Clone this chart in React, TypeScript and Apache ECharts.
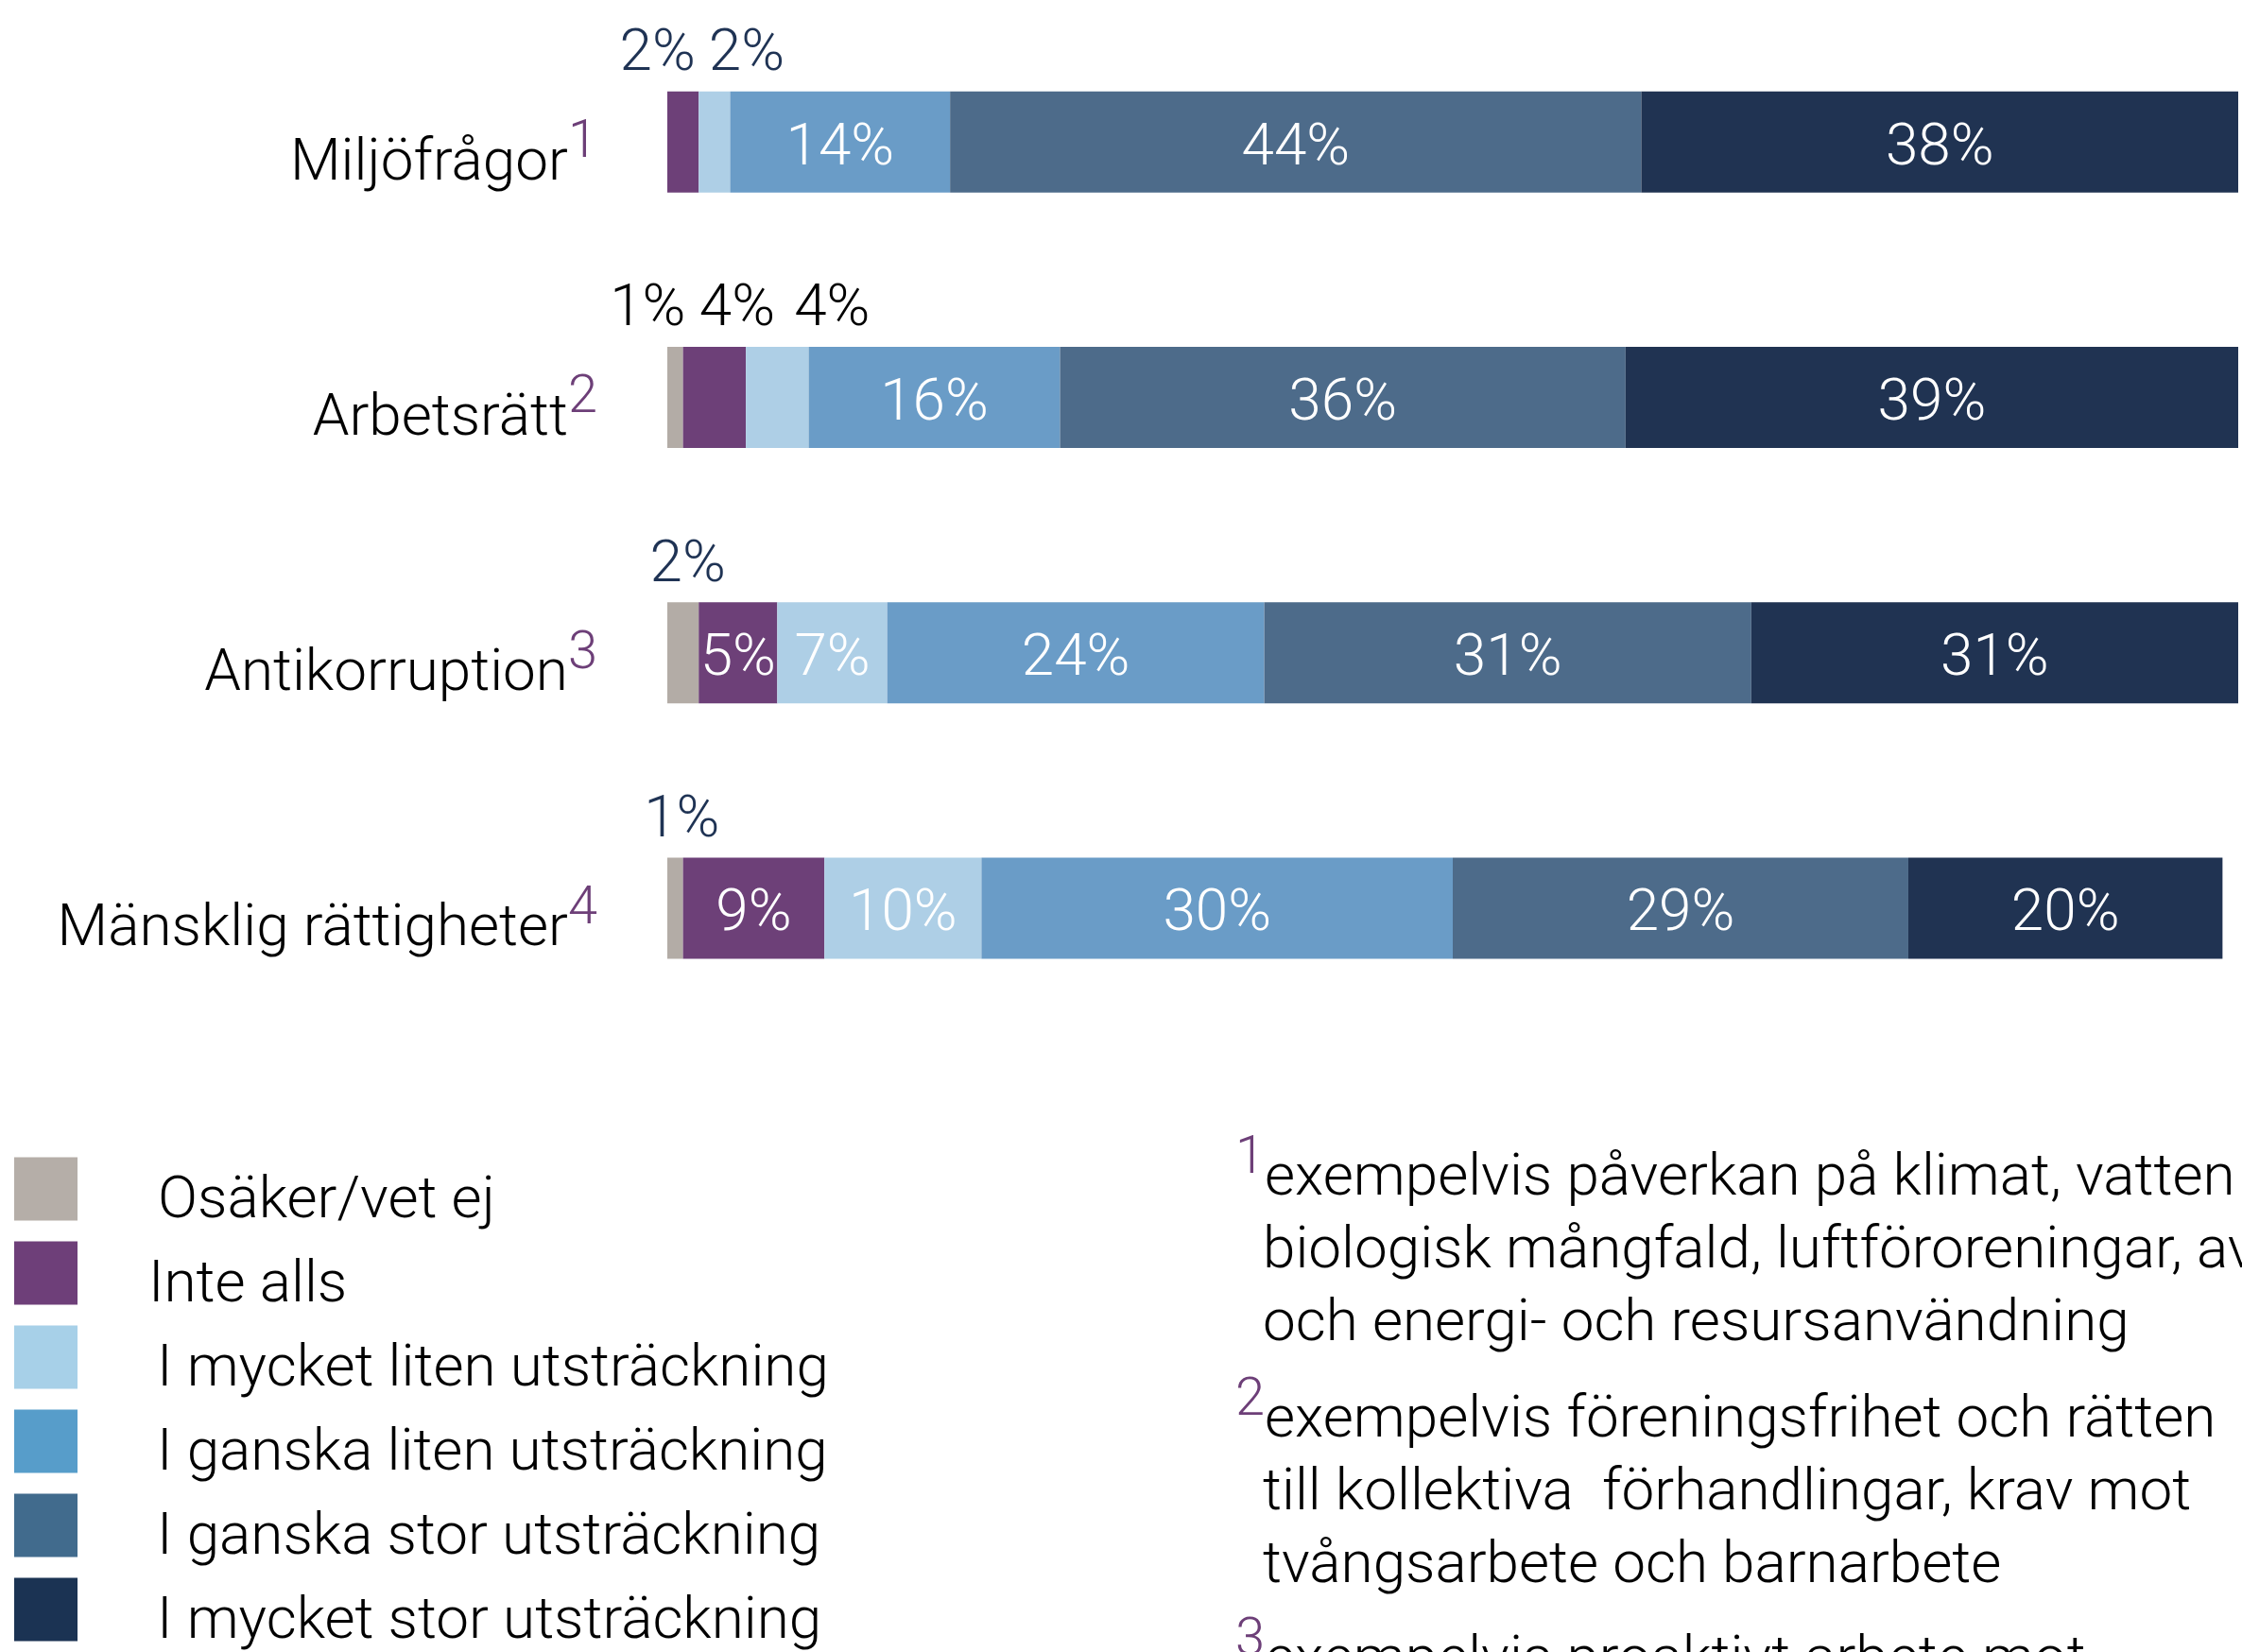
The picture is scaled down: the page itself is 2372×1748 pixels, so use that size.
import React, { useEffect, useRef } from "react";
import * as echarts from "echarts";

// ---------- data ----------
const categories = ["Miljöfrågor", "Arbetsrätt", "Antikorruption", "Mänsklig rättigheter"];
const footnoteMarks = ["1", "2", "3", "4"];
const seriesNames = [
  "Osäker/vet ej",
  "Inte alls",
  "I mycket liten utsträckning",
  "I ganska liten utsträckning",
  "I ganska stor utsträckning",
  "I mycket stor utsträckning",
];
const osakerVetEj = [0, 1, 2, 1];
const inteAlls = [2, 4, 5, 9];
const mycketLiten = [2, 4, 7, 10];
const ganskaLiten = [14, 16, 24, 30];
const ganskaStor = [44, 36, 31, 29];
const mycketStor = [38, 39, 31, 20];

const footnote1 = [
  "exempelvis påverkan på klimat, vatten",
  "biologisk mångfald, luftföroreningar, av",
  "och energi- och resursanvändning",
];
const footnote2 = [
  "exempelvis föreningsfrihet och rätten",
  "till kollektiva  förhandlingar, krav mot",
  "tvångsarbete och barnarbete",
];
const footnote3 = ["exempelvis proaktivt arbete mot"];

// ---------- styles ----------
const FONT = "Roboto";
const FW = 300;
const BAR_COLORS = ["#b3aca6", "#6d4078", "#aecfe6", "#6a9cc7", "#4d6b8a", "#203352"];
const LEGEND_COLORS = ["#b5aea8", "#6e3f79", "#a7d0e8", "#579dca", "#416b8d", "#1b3353"];
const PURPLE = "#6d3f78";
const OUTSIDE_COLOR = ["#1f3354", "#000000", "#1f3354", "#1f3354"];
// horizontal nudges (px) of the small-segment labels placed above the bars: "row-series"
const OUTSIDE_NUDGE: Record<string, number> = {
  "0-1": -27,
  "0-2": 34,
  "1-0": -29,
  "1-1": 24,
  "1-2": 58,
  "2-0": 5,
  "3-0": 7,
};

const seriesValues = [osakerVetEj, inteAlls, mycketLiten, ganskaLiten, ganskaStor, mycketStor];

function buildOption() {
  const series = seriesValues.map((vals, si) => ({
    name: seriesNames[si],
    type: "bar",
    stack: "total",
    barWidth: 107,
    itemStyle: { color: BAR_COLORS[si] },
    label: {
      show: true,
      formatter: "{c}%",
      fontFamily: FONT,
      fontWeight: FW,
      fontSize: 62,
      lineHeight: 62,
    },
    data: vals.map((v, r) => {
      if (v === 0) return { value: v, label: { show: false } };
      if (v < 5) {
        return {
          value: v,
          label: {
            show: true,
            position: "top",
            distance: 13,
            offset: [OUTSIDE_NUDGE[`${r}-${si}`] || 0, 0],
            color: OUTSIDE_COLOR[r],
          },
        };
      }
      return { value: v, label: { show: true, position: "inside", offset: [0, 2], color: "#ffffff" } };
    }),
  }));

  const mainText = { fontSize: 62, fontFamily: FONT, fontWeight: FW, fill: "#000000" };
  const graphics: any[] = [];
  const addFootnote = (mark: string, lines: string[], baseY: number) => {
    lines.forEach((line, i) => {
      if (i === 0) {
        graphics.push({
          type: "text",
          x: 1307,
          y: baseY,
          silent: true,
          style: {
            text: `{s|${mark}}{t|${line}}`,
            verticalAlign: "middle",
            align: "left",
            rich: {
              s: { fontSize: 56, fontFamily: FONT, fontWeight: FW, fill: PURPLE, padding: [0, 0, 40, 0], lineHeight: 56 },
              t: { ...mainText, lineHeight: 62 },
            },
          },
        });
      } else {
        graphics.push({
          type: "text",
          x: 1336,
          y: baseY + i * 77,
          silent: true,
          style: { ...mainText, text: line, verticalAlign: "middle", align: "left" },
        });
      }
    });
  };
  addFootnote("1", footnote1, 1242);
  addFootnote("2", footnote2, 1498);
  addFootnote("3", footnote3, 1752);

  const legendTok = { fontSize: 62, fontFamily: FONT, fontWeight: FW, color: "#000000", lineHeight: 62 };

  return {
    animation: false,
    backgroundColor: "#ffffff",
    textStyle: { fontFamily: FONT },
    grid: { left: 706, right: 4, top: 15, bottom: 652, containLabel: false },
    xAxis: {
      type: "value",
      min: 0,
      max: 100,
      show: false,
    },
    yAxis: {
      type: "category",
      inverse: true,
      data: categories,
      axisLine: { show: false },
      axisTick: { show: false },
      splitLine: { show: false },
      axisLabel: {
        margin: 74,
        formatter: (v: string, i: number) => `{n|${v}}{s|${footnoteMarks[i]}}`,
        rich: {
          n: { fontSize: 62, fontFamily: FONT, fontWeight: FW, color: "#000000", padding: [36, 0, 0, 0], lineHeight: 62 },
          s: { fontSize: 56, fontFamily: FONT, fontWeight: FW, color: PURPLE, padding: [0, 0, 6, 0], lineHeight: 56 },
        },
      },
    },
    legend: {
      orient: "vertical",
      left: 15,
      top: 1219,
      padding: 0,
      itemWidth: 67,
      itemHeight: 67,
      itemGap: 11,
      selectedMode: false,
      icon: "rect",
      formatter: (name: string) => {
        const idx = seriesNames.indexOf(name);
        const key = idx === 0 ? "c" : idx === 1 ? "b" : "a";
        return `{${key}|${name}}`;
      },
      textStyle: {
        fontSize: 62,
        fontFamily: FONT,
        fontWeight: FW,
        color: "#000000",
        rich: {
          a: { ...legendTok, padding: [16, 0, 0, 79] },
          b: { ...legendTok, padding: [16, 0, 0, 70] },
          c: { ...legendTok, padding: [16, 0, 0, 80] },
        },
      },
      data: seriesNames.map((n, i) => ({
        name: n,
        itemStyle: { color: LEGEND_COLORS[i] },
      })),
    },
    graphic: { elements: graphics },
    series,
  };
}

export default function App() {
  const ref = useRef<HTMLDivElement>(null);
  useEffect(() => {
    if (!ref.current) return;
    const chart = echarts.init(ref.current, undefined, { renderer: "svg" });
    chart.setOption(buildOption() as any);
    return () => chart.dispose();
  }, []);
  return (
    <div
      ref={ref}
      style={{ position: "fixed", left: 0, top: 0, width: 2372, height: 1748, background: "#fff" }}
    />
  );
}
